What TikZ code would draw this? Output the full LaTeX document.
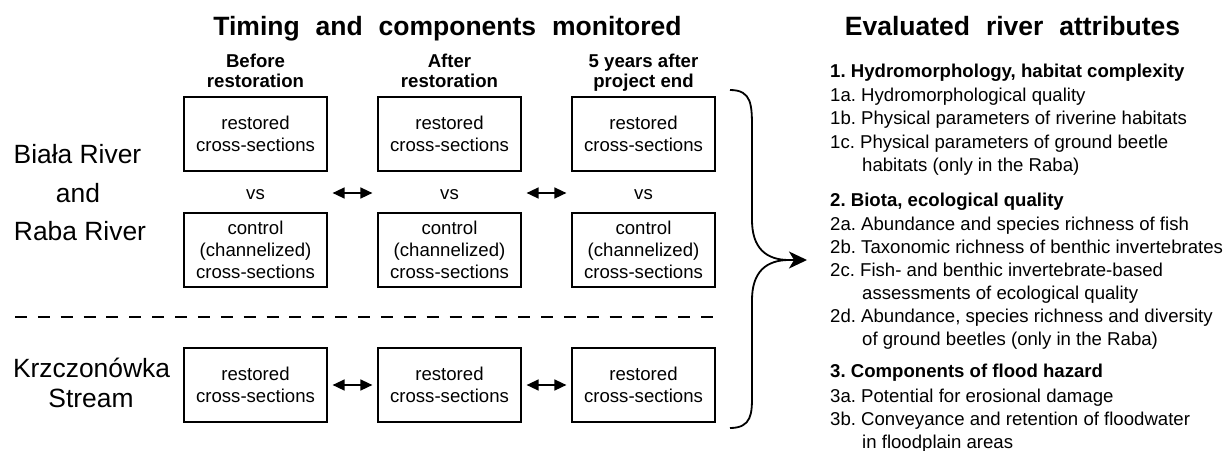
\documentclass[tikz,border=0pt]{standalone}
\usepackage{fontspec}
\setmainfont{Liberation Sans}
\usetikzlibrary{arrows.meta}
\newcommand\wsp{\hspace{0.6em}}
\newcommand\fsbody{\fontsize{18.6}{22}\selectfont}
\newcommand\fsbig{\fontsize{26.5}{30}\selectfont}
\newcommand\fsside{\fontsize{26.4}{30}\selectfont}
\frenchspacing
\begin{document}
\begin{tikzpicture}[x=1pt,y=-1pt,
  boxnode/.style={draw, line width=1.2pt, minimum width=143pt, minimum height=74pt, inner sep=0pt, align=center, font=\fsbody},
  txt/.style={inner sep=0pt, font=\fsbody},
  listitem/.style={inner sep=0pt, anchor=base west, font=\fsbody},
  listhead/.style={inner sep=0pt, anchor=base west, font=\fsbody\bfseries},
  colhead/.style={inner sep=0pt, anchor=base, font=\fsbody\bfseries},
  title/.style={inner sep=0pt, anchor=base, font=\fsbig\bfseries},
  side/.style={inner sep=0pt, anchor=base, font=\fsside},
  dbl/.style={{Triangle[length=12pt,width=11pt]}-{Triangle[length=12pt,width=11pt]}, line width=1.5pt},
  braceline/.style={line width=1.8pt},
]
\useasboundingbox (0,0) rectangle (1228,450);

% titles
\node[title] (t1) at (447.5,35) {Timing\wsp and\wsp components\wsp monitored};
\node[title] (t2) at (1012.5,35) {Evaluated\wsp river\wsp attributes};

% column headers
\node[colhead] (h1a) at (255.5,67) {Before};
\node[colhead] (h1b) at (255.5,87) {restoration};
\node[colhead] (h2a) at (449.5,67) {After};
\node[colhead] (h2b) at (449.5,87) {restoration};
\node[colhead] (h3a) at (643.5,67) {5 years after};
\node[colhead] (h3b) at (643.5,87) {project end};

% side labels
\node[side] (s1) at (77.5,163) {Biała River};
\node[side] (s2) at (78,202) {and};
\node[side] (s3) at (80,240) {Raba River};
\node[side] (s4) at (91.5,377) {Krzczonówka};
\node[side] (s5) at (91,407) {Stream};

% boxes
\node[boxnode] (r1) at (255.5,134) {restored\\cross-sections};
\node[boxnode] (r2) at (449.5,134) {restored\\cross-sections};
\node[boxnode] (r3) at (643.5,134) {restored\\cross-sections};
\node[boxnode] (c1) at (255.5,250) {control\\(channelized)\\cross-sections};
\node[boxnode] (c2) at (449.5,250) {control\\(channelized)\\cross-sections};
\node[boxnode] (c3) at (643.5,250) {control\\(channelized)\\cross-sections};
\node[boxnode] (k1) at (255.5,385) {restored\\cross-sections};
\node[boxnode] (k2) at (449.5,385) {restored\\cross-sections};
\node[boxnode] (k3) at (643.5,385) {restored\\cross-sections};

% vs
\node[txt, anchor=base] (v1) at (255.5,199) {vs};
\node[txt, anchor=base] (v2) at (449.5,199) {vs};
\node[txt, anchor=base] (v3) at (643.5,199) {vs};

% arrows
\coordinate (a1) at (r1.east |- 0,193);
\coordinate (a2) at (r2.west |- 0,193);
\coordinate (a3) at (r2.east |- 0,193);
\coordinate (a4) at (r3.west |- 0,193);
\draw[dbl, shorten <=5pt, shorten >=5pt] (a1) -- (a2);
\draw[dbl, shorten <=5pt, shorten >=5pt] (a3) -- (a4);
\draw[dbl, shorten <=5pt, shorten >=5pt] (k1) -- (k2);
\draw[dbl, shorten <=5pt, shorten >=5pt] (k2) -- (k3);

% dashed separator
\coordinate (d1) at (15,317);
\coordinate (d2) at (713,317);
\draw[line width=1.2pt, dash pattern=on 12pt off 10.87pt] (d1) -- (d2);

% brace
\coordinate (bt) at (730,90);
\coordinate (bb) at (730,428);
\coordinate (cusp) at (789,260);
\coordinate (tip) at (807,260);
\draw[braceline, -{Stealth[length=18pt,width=17pt,inset=5pt]}] (bt) .. controls (752,90) and (752,105) .. (752,130) -- (752,220) .. controls (752,248) and (766,260) .. (cusp) -- (tip);
\draw[braceline] (bb) .. controls (752,428) and (752,413) .. (752,395) -- (752,300) .. controls (752,272) and (766,260) .. (cusp);

% list
\node[listhead] (l1) at (830,77.5) {1. Hydromorphology, habitat complexity};
\node[listitem] (l1a) at (830,101) {1a. Hydromorphological quality};
\node[listitem] (l1b) at (830,124.5) {1b. Physical parameters of riverine habitats};
\node[listitem] (l1c) at (830,148) {1c. Physical parameters of ground beetle};
\node[listitem] (l1c2) at (862,171.5) {habitats (only in the Raba)};
\node[listhead] (l2) at (830,206.5) {2. Biota, ecological quality};
\node[listitem] (l2a) at (830,230) {2a. Abundance and species richness of fish};
\node[listitem] (l2b) at (830,253) {2b. Taxonomic richness of benthic invertebrates};
\node[listitem] (l2c) at (830,276) {2c. Fish- and benthic invertebrate-based};
\node[listitem] (l2c2) at (862,299) {assessments of ecological quality};
\node[listitem] (l2d) at (830,322) {2d. Abundance, species richness and diversity};
\node[listitem] (l2d2) at (862,345) {of ground beetles (only in the Raba)};
\node[listhead] (l3) at (830,377) {3. Components of flood hazard};
\node[listitem] (l3a) at (830,402) {3a. Potential for erosional damage};
\node[listitem] (l3b) at (830,425) {3b. Conveyance and retention of floodwater};
\node[listitem] (l3b2) at (862,448) {in floodplain areas};
\end{tikzpicture}
\end{document}
